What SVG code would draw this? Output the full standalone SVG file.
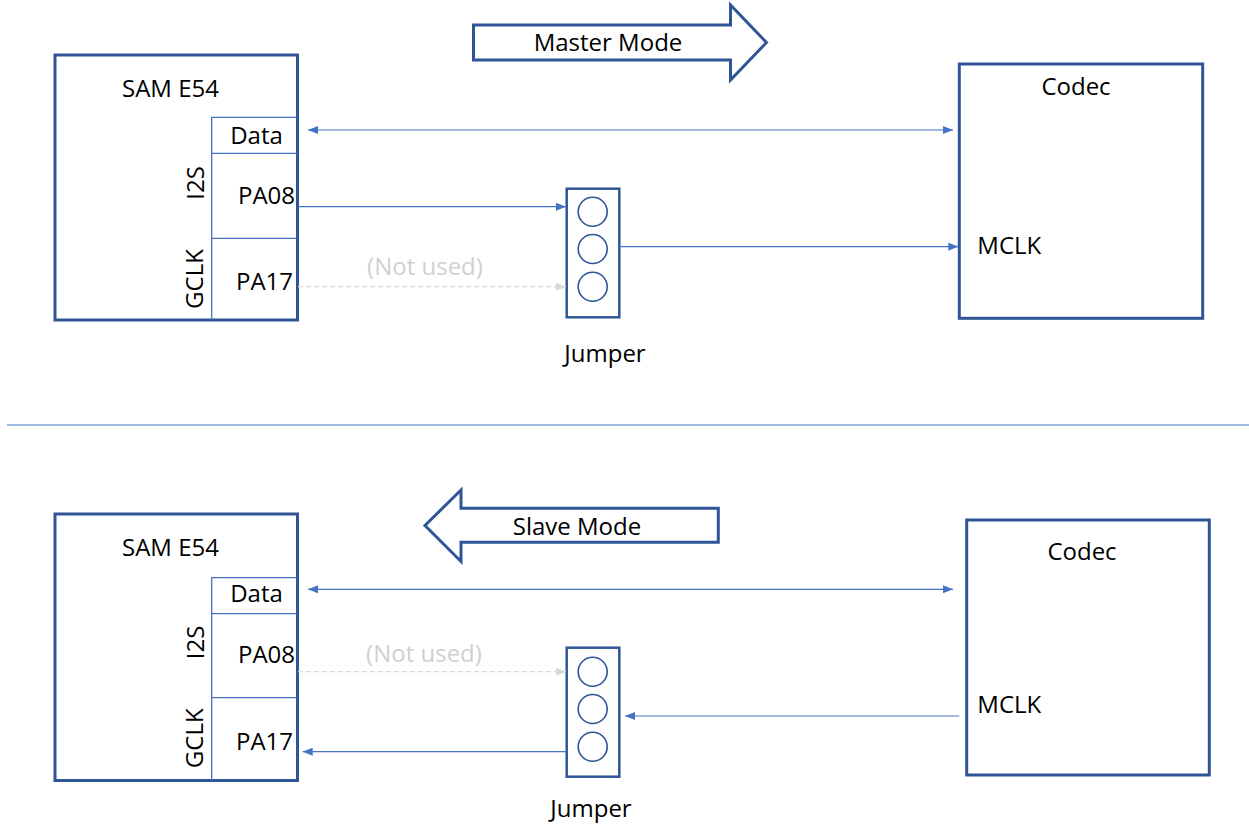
<svg xmlns="http://www.w3.org/2000/svg" width="1249" height="825" viewBox="0 0 1249 825">
<defs>
<style>
text{font-family:"Open Sans","Liberation Sans",sans-serif;font-size:24px;fill:#000}
.box{fill:#fff;stroke:#2F5597;stroke-width:3}
.sub{fill:none;stroke:#4472C4;stroke-width:1.3}
.jbox{fill:#fff;stroke:#2F5597;stroke-width:2.5}
.pin{fill:#fff;stroke:#2F5597;stroke-width:1.6}
.mode{fill:#fff;stroke:#2F5597;stroke-width:3;stroke-linejoin:miter}
.wire{stroke:#4472C4;stroke-width:1.2;fill:none}
.unused{stroke:#D9D9D9;stroke-width:1.2;stroke-dasharray:5,3;fill:none}
.gray{fill:#D0D0D0}
.mid{text-anchor:middle}
.end{text-anchor:end}
</style>
<marker id="a" viewBox="0 0 10 8" refX="10" refY="4" markerWidth="10" markerHeight="8" markerUnits="userSpaceOnUse" orient="auto-start-reverse">
<path d="M0,0 L10,4 L0,8 z" fill="#4472C4"/>
</marker>
<marker id="g" viewBox="0 0 10 8" refX="10" refY="4" markerWidth="10" markerHeight="8" markerUnits="userSpaceOnUse" orient="auto">
<path d="M0,0 L10,4 L0,8 z" fill="#D9D9D9"/>
</marker>
</defs>

<!-- separator -->
<line x1="7" y1="425" x2="1249" y2="425" stroke="#4472C4" stroke-width="1.2"/>

<!-- Top: Master mode -->
<g id="master-arrow">
<path class="mode" d="M473.5,25 L730.5,25 L730.5,5 L766.5,42.5 L730.5,80 L730.5,60 L473.5,60 Z"/>
<text x="608" y="51" class="mid">Master Mode</text>
</g>

<g id="sam-top">
<rect class="box" x="55" y="55" width="242.5" height="265"/>
<path class="sub" d="M211.7,320 V117.3 H297 M211.7,153.3 H297 M211.7,238.3 H297"/>
<text x="170.5" y="96.5" class="mid">SAM E54</text>
<text x="256.5" y="144.3" class="mid">Data</text>
<text x="295" y="204" class="end">PA08</text>
<text x="293" y="290" class="end">PA17</text>
<text transform="translate(204,183) rotate(-90)" class="mid">I2S</text>
<text transform="translate(203,279) rotate(-90)" class="mid">GCLK</text>
</g>

<g id="jumper-top">
<rect class="jbox" x="566.7" y="188.7" width="52.6" height="128.6"/>
<circle class="pin" cx="592.7" cy="211.7" r="14.5"/>
<circle class="pin" cx="592.7" cy="249" r="14.5"/>
<circle class="pin" cx="592.7" cy="286.7" r="14.5"/>
<text x="605" y="361.5" class="mid">Jumper</text>
</g>

<g id="codec-top">
<rect class="box" x="959.3" y="64" width="243.4" height="254.3"/>
<text x="1076" y="95" class="mid">Codec</text>
<text x="977.3" y="254">MCLK</text>
</g>

<!-- Bottom: Slave mode -->
<g id="slave-arrow">
<path class="mode" d="M718.3,508.3 L461,508.3 L461,490 L425,525.5 L461,561.5 L461,542.3 L718.3,542.3 Z"/>
<text x="577" y="535" class="mid">Slave Mode</text>
</g>

<g id="sam-bottom">
<rect class="box" x="55" y="514" width="242.5" height="266.5"/>
<path class="sub" d="M211.7,780.5 V577.7 H297 M211.7,613.7 H297 M211.7,697.7 H297"/>
<text x="170.5" y="556" class="mid">SAM E54</text>
<text x="256.5" y="601.7" class="mid">Data</text>
<text x="295" y="662.7" class="end">PA08</text>
<text x="293" y="750" class="end">PA17</text>
<text transform="translate(204,642.5) rotate(-90)" class="mid">I2S</text>
<text transform="translate(203,738.3) rotate(-90)" class="mid">GCLK</text>
</g>

<g id="jumper-bottom">
<rect class="jbox" x="566.7" y="647.7" width="52.6" height="129"/>
<circle class="pin" cx="592.7" cy="671.7" r="14.5"/>
<circle class="pin" cx="592.7" cy="709" r="14.5"/>
<circle class="pin" cx="592.7" cy="746.7" r="14.5"/>
<text x="591" y="817.3" class="mid">Jumper</text>
</g>

<g id="codec-bottom">
<rect class="box" x="966.7" y="520" width="242.6" height="255"/>
<text x="1082" y="560" class="mid">Codec</text>
<text x="977.3" y="713.3">MCLK</text>
</g>

<!-- connectors -->
<g id="connectors">
<line class="wire" x1="308" y1="130" x2="953" y2="130" marker-start="url(#a)" marker-end="url(#a)"/>
<line class="wire" x1="298" y1="206.7" x2="566" y2="206.7" marker-end="url(#a)"/>
<line class="unused" x1="298" y1="286.7" x2="566" y2="286.7" marker-end="url(#g)"/>
<text x="425" y="274.5" class="mid gray">(Not used)</text>
<line class="wire" x1="619.3" y1="246.7" x2="958.3" y2="246.7" marker-end="url(#a)"/>

<line class="wire" x1="308" y1="589.3" x2="953" y2="589.3" marker-start="url(#a)" marker-end="url(#a)"/>
<line class="unused" x1="298" y1="671.7" x2="566" y2="671.7" marker-end="url(#g)"/>
<text x="424" y="661.5" class="mid gray">(Not used)</text>
<line class="wire" x1="566.7" y1="751.7" x2="302.7" y2="751.7" marker-end="url(#a)"/>
<line class="wire" x1="959.3" y1="716" x2="625" y2="716" marker-end="url(#a)"/>
</g>
</svg>
